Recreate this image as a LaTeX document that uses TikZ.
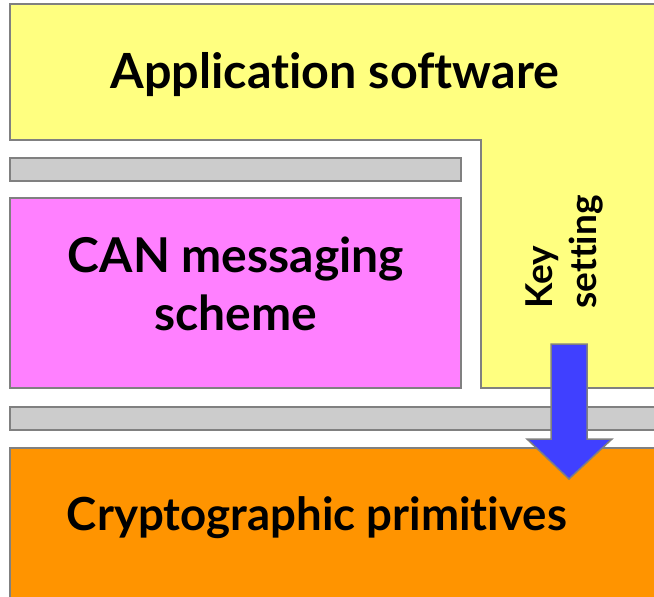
\documentclass[tikz,border=0pt]{standalone}
\usepackage{fontspec}
\setmainfont{Lato}[Ligatures=NoCommon]
\definecolor{appyellow}{HTML}{FFFF80}
\definecolor{canpink}{HTML}{FF80FF}
\definecolor{bargrey}{HTML}{CCCCCC}
\definecolor{cryptoorange}{HTML}{FF9400}
\definecolor{arrowblue}{HTML}{4040FF}
\definecolor{edgegrey}{HTML}{808080}
\begin{document}
\begin{tikzpicture}[x=1pt,y=-1pt,
  layer/.style={draw=edgegrey,line width=1.5pt},
  label/.style={font=\bfseries\fontsize{#1}{58}\selectfont,text=black,align=center},
  keylabel/.style={font=\bfseries\fontsize{37}{44}\selectfont,text=black,align=left,rotate=90}]
\useasboundingbox (0,0) rectangle (654,597);
\clip (0,0) rectangle (654,597);
% application layer (L-shaped)
\draw[layer,fill=appyellow] (10,4) -- (664,4) -- (664,388) -- (481,388) -- (481,140) -- (10,140) -- cycle;
% separator bars
\draw[layer,fill=bargrey] (10,158) rectangle (461,181);
\draw[layer,fill=bargrey] (10,407) rectangle (664,430);
% CAN messaging layer
\draw[layer,fill=canpink] (10,198) rectangle (461,388);
% cryptographic primitives layer
\draw[layer,fill=cryptoorange] (10,448) rectangle (664,607);
% key setting arrow
\draw[layer,fill=arrowblue] (551,344) -- (587,344) -- (587,439) -- (612,439) -- (569,479) -- (527,439) -- (551,439) -- cycle;
% labels
\node[label=48.5,anchor=base] (app) at (335,88) {Application software};
\node[label=48] (can) at (236,284) {CAN messaging\\scheme};
\node[label=45.6,anchor=base] (crypto) at (317,530) {Cryptographic primitives};
\node[keylabel,anchor=south west] (key) at (607,312) {Key\\setting};
\end{tikzpicture}
\end{document}
